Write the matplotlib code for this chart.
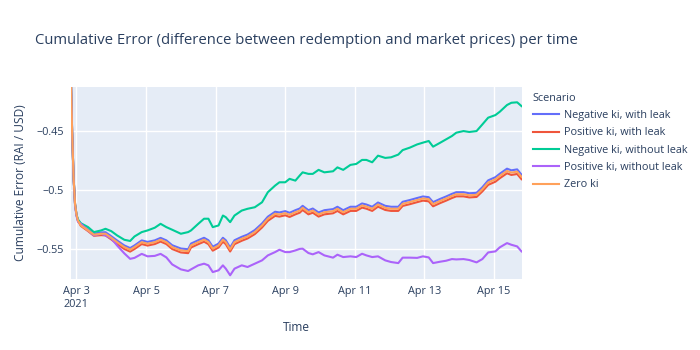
"""
Cumulative error per scenario over time (plotly-like look, drawn with matplotlib).
"""
import numpy as np
import pandas as pd
import matplotlib
matplotlib.use("Agg")
import matplotlib.pyplot as plt
import matplotlib.dates as mdates

# =============================================================================
# DATA  (hours since 2021-04-03 00:00)
# =============================================================================
hours = [-4, -3, -2, -1, 0, 1,
         3, 8, 12, 17, 20, 24, 28, 33, 37, 40,
         45, 49, 54, 58, 62, 66, 72, 77, 79, 84,
         88, 91, 94, 98, 101, 103, 106, 109, 114, 118,
         123, 128, 132, 137, 140, 144, 147, 151, 154, 156,
         160, 163, 167, 171, 177, 180, 184, 189, 193, 197,
         200, 204, 208, 213, 217, 222, 225, 230, 235, 239,
         243, 246, 251, 255, 259, 262, 267, 271, 276, 280,
         284, 289, 292, 297, 300, 304, 307]

neg_ki_leak = [-0.399, -0.452, -0.490, -0.512, -0.521, -0.526,
               -0.5297, -0.5337, -0.5370, -0.5360, -0.5358, -0.5392, -0.5428, -0.5470, -0.5492, -0.5470,
               -0.5427, -0.5440, -0.5427, -0.5406, -0.5427, -0.5468, -0.5496, -0.5502, -0.5454, -0.5426,
               -0.5405, -0.5426, -0.5481, -0.5454, -0.5405, -0.5426, -0.5488, -0.5426, -0.5397, -0.5378,
               -0.5340, -0.5284, -0.5227, -0.5185, -0.5191, -0.5180, -0.5194, -0.5172, -0.5158, -0.5135,
               -0.5172, -0.5158, -0.5191, -0.5172, -0.5163, -0.5143, -0.5172, -0.5143, -0.5143, -0.5115,
               -0.5124, -0.5143, -0.5107, -0.5135, -0.5143, -0.5143, -0.5101, -0.5086, -0.5069, -0.5056,
               -0.5062, -0.5104, -0.5076, -0.5056, -0.5034, -0.5020, -0.5020, -0.5029, -0.5025, -0.4978,
               -0.4920, -0.4893, -0.4864, -0.4821, -0.4835, -0.4827, -0.4872]

pos_ki_leak = [-0.399, -0.452, -0.490, -0.512, -0.521, -0.526,
               -0.5305, -0.5349, -0.5388, -0.5383, -0.5385, -0.5419, -0.5457, -0.5500, -0.5522, -0.5500,
               -0.5458, -0.5471, -0.5458, -0.5437, -0.5458, -0.5500, -0.5529, -0.5535, -0.5487, -0.5459,
               -0.5438, -0.5459, -0.5514, -0.5487, -0.5438, -0.5459, -0.5521, -0.5459, -0.5430, -0.5411,
               -0.5374, -0.5318, -0.5262, -0.5220, -0.5226, -0.5215, -0.5229, -0.5207, -0.5193, -0.5170,
               -0.5207, -0.5193, -0.5226, -0.5207, -0.5198, -0.5178, -0.5207, -0.5178, -0.5178, -0.5150,
               -0.5159, -0.5178, -0.5142, -0.5170, -0.5178, -0.5178, -0.5136, -0.5121, -0.5104, -0.5091,
               -0.5097, -0.5139, -0.5111, -0.5091, -0.5069, -0.5055, -0.5055, -0.5064, -0.5060, -0.5013,
               -0.4958, -0.4931, -0.4902, -0.4860, -0.4874, -0.4866, -0.4910]

neg_ki_noleak = [-0.399, -0.452, -0.490, -0.512, -0.521, -0.525,
                 -0.5282, -0.5315, -0.5357, -0.5343, -0.5329, -0.5349, -0.5385, -0.5422, -0.5432, -0.5394,
                 -0.5357, -0.5343, -0.5320, -0.5287, -0.5315, -0.5337, -0.5371, -0.5357, -0.5343, -0.5287,
                 -0.5244, -0.5244, -0.5315, -0.5301, -0.5217, -0.5231, -0.5273, -0.5217, -0.5175, -0.5160,
                 -0.5147, -0.5105, -0.5020, -0.4964, -0.4936, -0.4936, -0.4907, -0.4922, -0.4879, -0.4852,
                 -0.4865, -0.4865, -0.4831, -0.4852, -0.4843, -0.4810, -0.4831, -0.4789, -0.4781, -0.4747,
                 -0.4747, -0.4767, -0.4711, -0.4730, -0.4725, -0.4702, -0.4664, -0.4643, -0.4616, -0.4601,
                 -0.4587, -0.4635, -0.4601, -0.4573, -0.4545, -0.4517, -0.4503, -0.4511, -0.4503, -0.4447,
                 -0.4390, -0.4368, -0.4340, -0.4283, -0.4264, -0.4260, -0.4292]

pos_ki_noleak = [-0.399, -0.452, -0.490, -0.513, -0.522, -0.527,
                 -0.5287, -0.5343, -0.5385, -0.5371, -0.5385, -0.5410, -0.5470, -0.5537, -0.5583, -0.5575,
                 -0.5541, -0.5562, -0.5558, -0.5541, -0.5571, -0.5630, -0.5672, -0.5686, -0.5672, -0.5638,
                 -0.5624, -0.5638, -0.5695, -0.5680, -0.5638, -0.5666, -0.5722, -0.5666, -0.5638, -0.5652,
                 -0.5624, -0.5596, -0.5554, -0.5526, -0.5506, -0.5526, -0.5526, -0.5512, -0.5499, -0.5497,
                 -0.5534, -0.5545, -0.5526, -0.5554, -0.5573, -0.5548, -0.5568, -0.5562, -0.5568, -0.5540,
                 -0.5554, -0.5568, -0.5562, -0.5596, -0.5610, -0.5619, -0.5573, -0.5573, -0.5575, -0.5562,
                 -0.5571, -0.5619, -0.5607, -0.5599, -0.5585, -0.5588, -0.5585, -0.5593, -0.5613, -0.5585,
                 -0.5529, -0.5520, -0.5486, -0.5450, -0.5464, -0.5478, -0.5520]

zero_ki = [-0.399, -0.452, -0.490, -0.512, -0.521, -0.526,
           -0.5301, -0.5343, -0.5379, -0.5371, -0.5371, -0.5405, -0.5442, -0.5484, -0.5506, -0.5484,
           -0.5442, -0.5455, -0.5442, -0.5421, -0.5442, -0.5484, -0.5512, -0.5518, -0.5470, -0.5442,
           -0.5421, -0.5442, -0.5497, -0.5470, -0.5421, -0.5442, -0.5504, -0.5442, -0.5413, -0.5394,
           -0.5357, -0.5301, -0.5244, -0.5202, -0.5208, -0.5197, -0.5211, -0.5189, -0.5175, -0.5152,
           -0.5189, -0.5175, -0.5208, -0.5189, -0.5180, -0.5160, -0.5189, -0.5160, -0.5160, -0.5132,
           -0.5141, -0.5160, -0.5124, -0.5152, -0.5160, -0.5160, -0.5118, -0.5103, -0.5086, -0.5073,
           -0.5079, -0.5121, -0.5093, -0.5073, -0.5051, -0.5037, -0.5037, -0.5046, -0.5042, -0.4995,
           -0.4938, -0.4911, -0.4882, -0.4840, -0.4854, -0.4846, -0.4890]

scenarios = ["Negative ki, with leak", "Positive ki, with leak",
             "Negative ki, without leak", "Positive ki, without leak", "Zero ki"]
series = [neg_ki_leak, pos_ki_leak, neg_ki_noleak, pos_ki_noleak, zero_ki]

tick_days = ["2021-04-03", "2021-04-05", "2021-04-07", "2021-04-09",
             "2021-04-11", "2021-04-13", "2021-04-15"]
tick_labels = ["Apr 3\n2021", "Apr 5", "Apr 7", "Apr 9", "Apr 11", "Apr 13", "Apr 15"]
y_ticks = [-0.55, -0.5, -0.45]
y_tick_labels = ["\u22120.55", "\u22120.5", "\u22120.45"]

# =============================================================================
# STYLE (plotly default template)
# =============================================================================
COLORS = ["#636efa", "#EF553B", "#00cc96", "#ab63fa", "#FFA15A"]
C_TEXT = "#2a3f5f"
C_BG = "#E5ECF6"
FS_TICK = 7.8
FS_AXIS = 8.6
plt.rcParams["font.family"] = ["Open Sans", "DejaVu Sans"]

times = pd.Timestamp("2021-04-03") + pd.to_timedelta(hours, unit="h")

fig = plt.figure(figsize=(7, 3.5), dpi=100)
ax = fig.add_axes([0.101, 0.203, 0.644, 0.548])
ax.set_facecolor(C_BG)
for s in ax.spines.values():
    s.set_visible(False)

for name, vals, col in zip(scenarios, series, COLORS):
    ax.plot(times, vals, color=col, lw=1.5, label=name, zorder=3)

ax.set_xlim(times[0], times[-1])
ax.set_ylim(-0.5753, -0.4132)

ax.set_xticks(mdates.date2num(pd.to_datetime(tick_days)))
ax.set_xticklabels(tick_labels, fontsize=FS_TICK, color=C_TEXT, linespacing=1.25)
ax.set_yticks(y_ticks)
ax.set_yticklabels(y_tick_labels, fontsize=FS_TICK, color=C_TEXT)
ax.tick_params(length=0, pad=5)
ax.grid(True, color="white", lw=1.0, zorder=0)
ax.set_axisbelow(True)

ax.set_xlabel("Time", fontsize=FS_AXIS, color=C_TEXT, labelpad=8)
ax.set_ylabel("Cumulative Error (RAI / USD)", fontsize=FS_AXIS, color=C_TEXT, labelpad=7)

fig.text(0.05, 1 - 40 / 350, "Cumulative Error (difference between redemption and market prices) per time",
         fontsize=10.7, color=C_TEXT, va="center", ha="left")

leg = fig.legend(loc="upper left", bbox_to_anchor=(0.755, 0.747), frameon=False,
                 title="Scenario", fontsize=FS_TICK, title_fontsize=FS_TICK,
                 handlelength=2.4, handletextpad=0.45, labelspacing=0.58,
                 alignment="left", borderaxespad=0)
leg.get_title().set_color(C_TEXT)
for t in leg.get_texts():
    t.set_color(C_TEXT)

fig.savefig("out.png", dpi=100)
